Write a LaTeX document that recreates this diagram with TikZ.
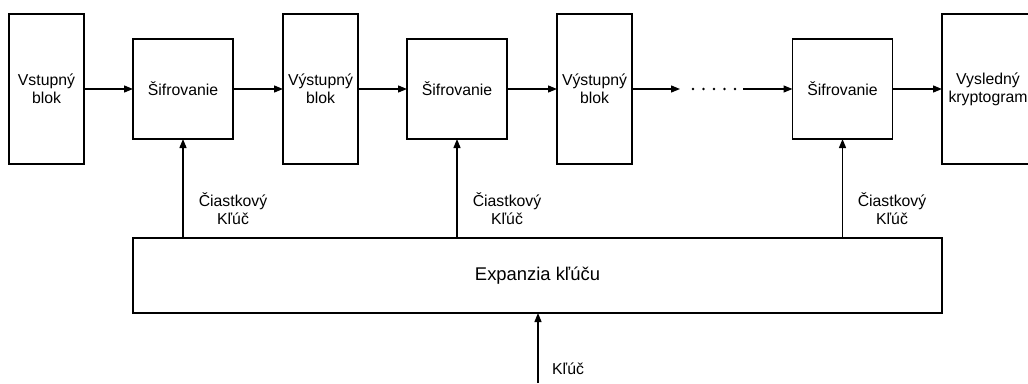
\documentclass[tikz,border=0pt]{standalone}
\usepackage{fontspec}
\setmainfont{Liberation Sans}
\usetikzlibrary{arrows.meta}
\begin{document}
\begin{tikzpicture}[x=1pt,y=-1pt,
  txt/.style={font=\fontsize{15.8}{18}\selectfont,align=center},
  tallbox/.style={draw,line width=1.3pt,minimum width=75pt,minimum height=150pt,inner sep=0pt,outer sep=0pt,txt},
  encbox/.style={draw,line width=1.3pt,minimum width=100pt,minimum height=100pt,inner sep=0pt,outer sep=0pt,txt},
  arr/.style={line width=1.3pt,-{Triangle[length=9pt,width=7pt]}},
  lbl/.style={txt,inner sep=0pt}]
\useasboundingbox (0,0) rectangle (1028,383);
\begin{scope}
\clip (0,0) rectangle (1028,383);
\node[tallbox] (in) at (46.5,89) {Vstupný\\blok};
\node[encbox] (s1) at (183,89) {Šifrovanie};
\node[tallbox] (o1) at (320.5,89) {Výstupný\\blok};
\node[encbox] (s2) at (457,89) {Šifrovanie};
\node[tallbox] (o2) at (594.5,89) {Výstupný\\blok};
\node[encbox] (s3) at (842.5,89) {Šifrovanie};
\node[tallbox,minimum width=92pt] (res) at (988,89) {Vysledný\\kryptogram};
\node[draw,line width=1.3pt,minimum width=809pt,minimum height=75pt,inner sep=0pt,outer sep=0pt,txt,font=\fontsize{18.4}{22}\selectfont] (exp) at (537.5,275.5) {Expanzia kľúču};
\end{scope}
\coordinate (d1) at (680,89);
\coordinate (d2) at (743,89);
\coordinate (kin) at (538,383);
\draw[arr] (in) -- (s1);
\draw[arr] (s1) -- (o1);
\draw[arr] (o1) -- (s2);
\draw[arr] (s2) -- (o2);
\draw[arr] (o2) -- (d1);
\foreach \i in {0,...,4} \fill (693+10.5*\i,89) circle (1.3pt);
\draw[arr] (d2) -- (s3);
\draw[arr] (s3) -- (res.west);
\draw[arr] (exp.north -| s1) -- (s1.south);
\draw[arr] (exp.north -| s2) -- (s2.south);
\draw[arr] (exp.north -| s3) -- (s3.south);
\draw[arr] (kin) -- (kin |- exp.south);
\node[lbl] (l1) at (233,209) {Čiastkový\\Kľúč};
\node[lbl] (l2) at (507,209) {Čiastkový\\Kľúč};
\node[lbl] (l3) at (892,209) {Čiastkový\\Kľúč};
\node[lbl,anchor=west] (lk) at (552,369) {Kľúč};
\end{tikzpicture}
\end{document}
